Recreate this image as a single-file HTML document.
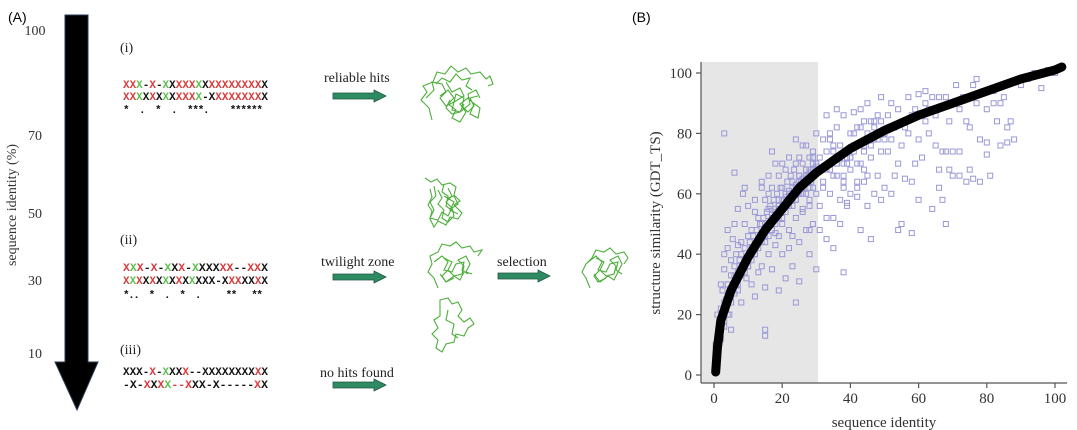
<!DOCTYPE html>
<html><head><meta charset="utf-8"><style>
body{margin:0;background:#fff;}
svg{display:block;font-family:"Liberation Serif",serif;}
.seq{font-family:"Liberation Mono",monospace;font-weight:bold;font-size:11px;}
</style></head><body>
<svg id="fig" width="1077" height="430" viewBox="0 0 1077 430">
<g>
<text x="8" y="22" font-family="Liberation Sans,sans-serif" font-size="14">(A)</text>
<polygon points="65,15 88,15 88,362 98,362 77,410 55,362 65,362" fill="#000" stroke="#2a3a55" stroke-width="1"/>
<g font-size="14" fill="#333" text-anchor="middle">
<text x="35" y="35">100</text><text x="35" y="140">70</text><text x="35" y="218">50</text><text x="35" y="285">30</text><text x="35" y="358">10</text>
</g>
<text transform="translate(16,205) rotate(-90)" text-anchor="middle" font-size="14" fill="#333">sequence identity (%)</text>
<g font-size="14" fill="#222">
<text x="120" y="52">(i)</text><text x="120" y="244">(ii)</text><text x="120" y="354">(iii)</text>
</g>
<g class="seq" id="seqs"></g>
<g font-size="14" fill="#222">
<text x="324" y="82">reliable hits</text>
<text x="321" y="266">twilight zone</text>
<text x="320" y="377">no hits found</text>
<text x="497" y="266">selection</text>
</g>
<g fill="#2e8a62" stroke="#1f5a40" stroke-width="0.8">
<polygon points="333,93 374,93 374,90 386,96 374,102 374,99 333,99"/>
<polygon points="333,274 374,274 374,271 386,277 374,283 374,280 333,280"/>
<polygon points="333,382 374,382 374,379 386,385 374,391 374,388 333,388"/>
<polygon points="498,273 538,273 538,270 550,276 538,282 538,279 498,279"/>
</g>
<g fill="none" stroke="#4caf3a" stroke-width="1.1">
<g>
<path d="M432,120 l-3,-12 l-8,-8 l6,-8 l-4,-6 l10,-4 l4,-10 l8,2 l6,-8 l7,6 l8,-4 l5,6 l9,-2 l6,7 l4,-3 l3,8 l-5,2 M440,96 l8,-6 l6,8 l-6,6 l8,6 l-4,8 l8,4 l6,-10 l-6,-8 l8,-6 l6,6 l-4,10 l8,4 l2,-10 l-8,-6 M446,82 l6,10 l8,-4 l4,8 l-10,6 l-2,8 l8,2 l10,-8 l-2,-10 l8,-4 l4,8"/>
<path d="M426,98 l8,-8 l-2,-8 l10,2 l4,8 l-6,6 l6,8 l8,-4 l2,-8 l8,4 l-2,8 l6,6 l6,-6 l-4,-8 l8,-2 M436,84 l6,-6 l8,4 l6,-8 l6,6 l8,-2 l-4,8 l6,4 M450,100 l-4,8 l6,6 l8,-2 l4,-8"/>
</g>
<g>
<path d="M425,178 l6,4 l6,-3 l5,6 l8,-2 l6,4 l-2,8 l6,6 l-6,4 l8,8 l-4,6 l-8,-2 l-4,8 l-8,-4 l-4,6 l-4,-8 l2,-8 l-4,-6 l4,-8 l-2,-8 M438,190 l4,8 l-4,6 l6,6 l-2,8 l6,4 l6,-6 l-2,-8 l6,-4 l-4,-8 l-6,2 M444,196 l10,6 l-4,8 l8,4"/>
<path d="M434,186 l2,10 l-6,6 l4,8 l-4,8 l8,2 l4,-8 l6,4 l4,-8 l-6,-6 l6,-6 l-4,-8 M444,184 l-2,8 l6,4 l-2,10 l8,6"/>
</g>
<g>
<path d="M438,288 l-4,-10 l-6,-6 l4,-8 l-2,-8 l8,-4 l4,-8 l8,2 l6,-4 l6,6 l8,-2 l4,6 l8,-2 l-4,6 M444,258 l8,4 l-4,8 l6,6 l8,-2 l2,-8 l-6,-6 l8,-4 l4,8 l-4,8 l6,2 M448,270 l-6,6 l4,6 l8,-4"/>
<path d="M434,262 l8,-6 l6,6 l-4,8 l8,2 l4,-8 l8,-2 l-2,8 l6,4 M440,274 l6,8 l8,-6 l6,4 l4,-8"/>
</g>
<g>
<path d="M440,300 l8,-2 l4,6 l6,-2 l4,8 l-4,6 l6,6 l6,-4 l4,6 l-6,4 l-4,8 l-8,-2 l-2,8 l-8,2 l-4,8 l-6,-4 l2,-8 l-6,-6 l6,-6 l-4,-8 l6,-4 z M448,310 l-2,10 l8,4 l-2,10 l6,4"/>
</g>
<g>
<path d="M590,288 l-4,-10 l-4,-6 l4,-8 l6,-6 l4,-8 l8,2 l6,-4 l6,6 l8,-2 l4,6 l-4,6 M596,258 l8,4 l-4,8 l6,6 l8,-2 l2,-8 l-6,-6 l8,-4 l4,8 l-4,8 M600,270 l-6,6 l4,6 l8,-4"/>
<path d="M588,262 l8,-6 l6,6 l-4,8 l8,2 l4,-8 l8,-2 l-2,8 l6,4 M594,274 l6,8 l8,-6 l6,4 l4,-8"/>
</g>
</g>
</g>

<g>
<text x="632" y="22" font-family="Liberation Sans,sans-serif" font-size="14">(B)</text>
<rect id="shade" x="701" y="62" width="117" height="321" fill="#e6e6e6"/>
<g id="points" fill="none" stroke="#9a98d8" stroke-width="1"></g>
<path id="curve" fill="none" stroke="#000" stroke-width="9" stroke-linecap="round" stroke-linejoin="round"/>
<g id="axes" stroke="#555" stroke-width="1.2"></g>
<g id="ticklabels" font-size="15" fill="#333"></g>
<text x="884" y="427" text-anchor="middle" font-size="15" fill="#333">sequence identity</text>
<text transform="translate(660,223) rotate(-90)" text-anchor="middle" font-size="15" fill="#333">structure similarity (GDT_TS)</text>
</g>
</svg>
<script>
var xTicks=[0,20,40,60,80,100];
var yTicks=[0,20,40,60,80,100];
var curveX=[0.5,1,2,5,10,15,20,25,30,40,50,60,70,80,90,100,102];
var curveY=[1,9,18,28,39,48,55,62,67,75,81,86,90,94,98,101,102];
var xData=[0.5,1,1,1.5,2,2,2.5,3,3,3.5,4,4,4.5,5,5,5.5,6,6,6.5,7,7,7.5,8,8,8.5,9,9,9.5,10,10,3,4,5,6,7,8,9,2,1,3,
10,11,11,12,12,12,13,13,14,14,14,15,15,15,16,16,16,17,17,17,18,18,18,19,19,19,20,20,20,11,13,15,17,19,12,14,16,18,20,15,
21,21,22,22,22,23,23,24,24,24,25,25,25,26,26,27,27,27,28,28,28,29,29,29,30,30,30,21,23,25,27,29,22,24,26,28,30,24,26,28,
31,31,32,32,33,33,33,34,34,35,35,35,36,36,37,37,38,38,38,39,39,40,40,40,41,41,42,42,43,43,44,44,45,45,46,46,47,47,48,48,49,49,50,50,31,33,35,37,39,41,43,45,47,49,36,38,40,42,44,46,
51,51,52,52,53,53,54,54,55,55,56,56,57,57,58,58,59,59,60,60,61,61,62,62,63,63,64,64,65,65,66,66,67,67,68,68,69,69,70,70,52,54,56,58,60,62,64,66,68,70,
71,72,72,73,74,75,75,76,77,77,78,79,80,80,81,82,83,84,84,85,86,87,88,90,92,94,96,98,100,72,76,80,82,86,74,78,
1.5,2.5,3,3.5,4,4.5,5,5.5,6,6.5,7,7.5,8,8.5,9,9.5,10.5,11,11.5,12,12.5,13,13.5,14,14.5,15,15.5,16,16.5,17,17.5,18,18.5,19,19.5,20.5,21,21.5,22,22.5,23,23.5,24,24.5,25,25.5,26,26.5,27,27.5,28,28.5,29,29.5,
2,3,4,5,6,7,8,9,10,11,12,13,14,15,16,17,18,19,20,21,22,23,24,25,26,27,28,29,30,
4,6,8,10,12,14,16,18,20,22,24,26,28,5,7,9,11,13,15,17,19,21,23,25,27,29,
32,34,36,38,40,42,44,46,48,50,33,35,37,39,41,43,45,47,49,34,36,38,42,44];
var yData=[10,20,6,14,22,12,28,18,35,25,30,42,20,38,26,45,33,50,40,28,55,36,44,24,60,38,50,32,46,56,80,48,15,67,43,35,62,30,5,40,
36,48,30,58,40,26,52,44,62,36,50,13,46,58,40,55,66,48,62,35,52,70,43,58,28,66,50,62,40,42,34,29,74,46,54,64,60,47,70,15,
56,68,48,72,60,36,64,52,78,58,44,66,72,54,62,76,48,60,68,56,40,72,62,50,80,60,70,32,46,31,64,74,42,24,76,58,35,70,55,48,
56,72,78,62,86,68,45,60,80,74,52,66,82,70,58,76,34,86,64,72,56,80,68,60,87,74,82,62,88,70,64,76,90,56,84,72,60,78,86,66,92,74,80,62,48,52,42,50,57,76,48,66,82,58,88,62,72,59,84,45,
86,74,90,78,82,66,88,70,76,50,84,65,92,80,86,64,70,88,93,78,86,72,90,84,80,88,92,55,86,76,92,62,74,58,92,50,68,84,90,74,60,48,82,47,58,94,88,68,74,66,
96,88,66,92,64,82,68,96,98,90,78,94,88,73,66,94,84,90,76,92,82,84,78,96,98,100,95,101,100,74,65,77,90,77,84,64,
16,20,24,22,30,26,33,28,36,30,34,38,40,36,42,38,44,40,46,42,48,45,50,46,52,48,54,50,56,52,58,54,60,56,62,58,60,64,56,66,58,68,62,60,66,64,70,62,68,66,72,64,70,68,
12,16,20,24,27,30,33,36,38,41,43,45,47,49,51,53,55,56,58,59,61,62,63,64,65,66,67,68,69,
26,30,34,36,40,44,46,50,52,56,58,60,62,24,32,34,38,42,44,48,52,54,56,60,64,66,
64,68,70,66,72,70,74,76,78,78,74,76,72,70,80,82,80,84,84,78,66,70,64,68];
var alignRows=[
 {y:88,s:"XXX-X-XXXXXXXXXXXXXXXX",c:"RRGBRBGBRRRGBRRRRRRRRB"},
 {y:100,s:"XXXXXXXXXXXX-XXXXXXXXX",c:"RRGBRBGBRRRGBBRRRRRRRB"},
 {y:271,s:"XXX-X-XXX-XXXXXX--XXX",c:"RGRBRBGBRBGBBBRRBBRRB"},
 {y:284,s:"XXXXXXXXXXXXXX-XXXXXXX",c:"RGRBRBGBRBGBBBBBRRBBRB"},
 {y:375,s:"XXX-X-XXXX--XXXXXXXXXX",c:"BBBBRBGBBRBBBBBBBBBBRB"},
 {y:388,s:"-X-XXXX--XXX-X-----XX",c:"BBBRBRGRRRBBBBBBBBBRB"}];
var starRows=[{y:113,s:"*  .  *  .  ***.    ******"},{y:298,s:"*..  *  .  *  .     **   **"}];

var NS="http://www.w3.org/2000/svg";
function sx(v){return 714+v*3.41;}
function sy(v){return 375-v*3.02;}
function mk(t,a,p){var e=document.createElementNS(NS,t);for(var k in a)e.setAttribute(k,a[k]);p.appendChild(e);return e;}

var pts=document.getElementById('points');
for(var i=0;i<xData.length;i++){
 var r=mk('rect',{x:sx(xData[i])-2.5,y:sy(yData[i])-2.5,width:5,height:5},pts);
 
 
}
var d='';
for(var i=0;i<curveX.length;i++){d+=(i?'L':'M')+sx(curveX[i]).toFixed(1)+','+sy(curveY[i]).toFixed(1);}
document.getElementById('curve').setAttribute('d',d);

var ax=document.getElementById('axes');
mk('line',{x1:701,y1:62,x2:701,y2:383},ax);
mk('line',{x1:701,y1:383,x2:1067,y2:383},ax);
var tl=document.getElementById('ticklabels');
xTicks.forEach(function(v){
 mk('line',{x1:sx(v),y1:383,x2:sx(v),y2:388},ax);
 var t=mk('text',{x:sx(v),y:403,'text-anchor':'middle'},tl);t.textContent=v;
 
 
});
yTicks.forEach(function(v){
 mk('line',{x1:696,y1:sy(v),x2:701,y2:sy(v)},ax);
 var t=mk('text',{x:692,y:sy(v)+5,'text-anchor':'end'},tl);t.textContent=v;
 
 
});

var sq=document.getElementById('seqs');
var col={R:'#d83a3a',G:'#5cc050',B:'#111'};
alignRows.forEach(function(row){
 var t=mk('text',{x:123,y:row.y,textLength:145,lengthAdjust:'spacingAndGlyphs'},sq);
 
 
 for(var i=0;i<row.s.length;i++){var sp=mk('tspan',{fill:col[row.c[i]]||'#111'},t);sp.textContent=row.s[i];}
});
starRows.forEach(function(row){
 var t=mk('text',{x:123,y:row.y,'xml:space':'preserve',style:'white-space:pre',fill:'#111',textLength:140,lengthAdjust:'spacing'},sq);
 t.textContent=row.s;
 
 
});
</script>
</body></html>
